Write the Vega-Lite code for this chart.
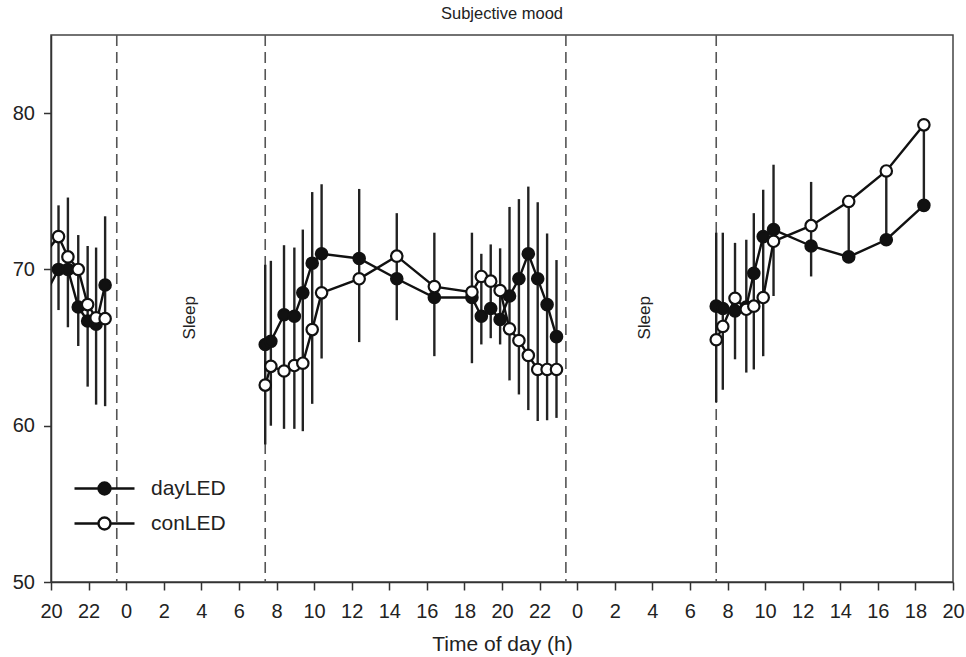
{
  "$schema": "https://vega.github.io/schema/vega-lite/v6.json",
  "autosize": {"type": "none"},
  "width": 902,
  "height": 547,
  "padding": {"left": 51, "top": 35, "right": 13, "bottom": 75},
  "config": {
    "font": "Liberation Sans",
    "view": {"stroke": "#444", "strokeWidth": 1.5},
    "axis": {"grid": false, "domainColor": "#333", "tickColor": "#333", "domainWidth": 1.5, "tickWidth": 1.5, "labelColor": "#222", "titleColor": "#222", "labelFont": "Liberation Sans", "titleFont": "Liberation Sans"}
  },
  "title": {"text": "Subjective mood", "fontSize": 16.5, "fontWeight": "normal", "color": "#222", "offset": 12, "font": "Liberation Sans"},
  "datasets": {
    "mood": [
      {"series": "dayLED", "seg": 1, "hour": 19.4, "mood": 67.75},
      {"series": "dayLED", "seg": 1, "hour": 20.4, "mood": 70.0},
      {"series": "dayLED", "seg": 1, "hour": 20.9, "mood": 70.0},
      {"series": "dayLED", "seg": 1, "hour": 21.45, "mood": 67.6},
      {"series": "dayLED", "seg": 1, "hour": 21.95, "mood": 66.7},
      {"series": "dayLED", "seg": 1, "hour": 22.4, "mood": 66.5},
      {"series": "dayLED", "seg": 1, "hour": 22.88, "mood": 69.0},
      {"series": "dayLED", "seg": 2, "hour": 31.4, "mood": 65.2},
      {"series": "dayLED", "seg": 2, "hour": 31.7, "mood": 65.4},
      {"series": "dayLED", "seg": 2, "hour": 32.4, "mood": 67.1},
      {"series": "dayLED", "seg": 2, "hour": 32.95, "mood": 67.0},
      {"series": "dayLED", "seg": 2, "hour": 33.4, "mood": 68.5},
      {"series": "dayLED", "seg": 2, "hour": 33.9, "mood": 70.4},
      {"series": "dayLED", "seg": 2, "hour": 34.4, "mood": 71.0},
      {"series": "dayLED", "seg": 2, "hour": 36.4, "mood": 70.7},
      {"series": "dayLED", "seg": 2, "hour": 38.4, "mood": 69.4},
      {"series": "dayLED", "seg": 2, "hour": 40.4, "mood": 68.2},
      {"series": "dayLED", "seg": 2, "hour": 42.4, "mood": 68.2},
      {"series": "dayLED", "seg": 2, "hour": 42.9, "mood": 67.0},
      {"series": "dayLED", "seg": 2, "hour": 43.4, "mood": 67.5},
      {"series": "dayLED", "seg": 2, "hour": 43.9, "mood": 66.8},
      {"series": "dayLED", "seg": 2, "hour": 44.4, "mood": 68.3},
      {"series": "dayLED", "seg": 2, "hour": 44.9, "mood": 69.4},
      {"series": "dayLED", "seg": 2, "hour": 45.4, "mood": 71.0},
      {"series": "dayLED", "seg": 2, "hour": 45.9, "mood": 69.4},
      {"series": "dayLED", "seg": 2, "hour": 46.4, "mood": 67.75},
      {"series": "dayLED", "seg": 2, "hour": 46.9, "mood": 65.7},
      {"series": "dayLED", "seg": 3, "hour": 55.4, "mood": 67.65},
      {"series": "dayLED", "seg": 3, "hour": 55.75, "mood": 67.5},
      {"series": "dayLED", "seg": 3, "hour": 56.4, "mood": 67.35},
      {"series": "dayLED", "seg": 3, "hour": 57.0, "mood": 67.6},
      {"series": "dayLED", "seg": 3, "hour": 57.4, "mood": 69.75},
      {"series": "dayLED", "seg": 3, "hour": 57.9, "mood": 72.1},
      {"series": "dayLED", "seg": 3, "hour": 58.45, "mood": 72.55},
      {"series": "dayLED", "seg": 3, "hour": 60.45, "mood": 71.5},
      {"series": "dayLED", "seg": 3, "hour": 62.45, "mood": 70.8},
      {"series": "dayLED", "seg": 3, "hour": 64.45, "mood": 71.9},
      {"series": "dayLED", "seg": 3, "hour": 66.45, "mood": 74.1},
      {"series": "conLED", "seg": 1, "hour": 19.4, "mood": 70.6},
      {"series": "conLED", "seg": 1, "hour": 20.4, "mood": 72.1},
      {"series": "conLED", "seg": 1, "hour": 20.9, "mood": 70.8},
      {"series": "conLED", "seg": 1, "hour": 21.45, "mood": 70.0},
      {"series": "conLED", "seg": 1, "hour": 21.95, "mood": 67.75},
      {"series": "conLED", "seg": 1, "hour": 22.4, "mood": 66.9},
      {"series": "conLED", "seg": 1, "hour": 22.88, "mood": 66.85},
      {"series": "conLED", "seg": 2, "hour": 31.4, "mood": 62.6},
      {"series": "conLED", "seg": 2, "hour": 31.7, "mood": 63.8},
      {"series": "conLED", "seg": 2, "hour": 32.4, "mood": 63.5},
      {"series": "conLED", "seg": 2, "hour": 32.95, "mood": 63.85},
      {"series": "conLED", "seg": 2, "hour": 33.4, "mood": 64.0},
      {"series": "conLED", "seg": 2, "hour": 33.9, "mood": 66.15},
      {"series": "conLED", "seg": 2, "hour": 34.4, "mood": 68.5},
      {"series": "conLED", "seg": 2, "hour": 36.4, "mood": 69.4},
      {"series": "conLED", "seg": 2, "hour": 38.4, "mood": 70.85},
      {"series": "conLED", "seg": 2, "hour": 40.4, "mood": 68.9},
      {"series": "conLED", "seg": 2, "hour": 42.4, "mood": 68.55},
      {"series": "conLED", "seg": 2, "hour": 42.9, "mood": 69.55},
      {"series": "conLED", "seg": 2, "hour": 43.4, "mood": 69.25},
      {"series": "conLED", "seg": 2, "hour": 43.9, "mood": 68.65},
      {"series": "conLED", "seg": 2, "hour": 44.4, "mood": 66.2},
      {"series": "conLED", "seg": 2, "hour": 44.9, "mood": 65.45},
      {"series": "conLED", "seg": 2, "hour": 45.4, "mood": 64.5},
      {"series": "conLED", "seg": 2, "hour": 45.9, "mood": 63.6},
      {"series": "conLED", "seg": 2, "hour": 46.4, "mood": 63.6},
      {"series": "conLED", "seg": 2, "hour": 46.9, "mood": 63.6},
      {"series": "conLED", "seg": 3, "hour": 55.4, "mood": 65.5},
      {"series": "conLED", "seg": 3, "hour": 55.75, "mood": 66.35},
      {"series": "conLED", "seg": 3, "hour": 56.4, "mood": 68.15},
      {"series": "conLED", "seg": 3, "hour": 57.0, "mood": 67.45},
      {"series": "conLED", "seg": 3, "hour": 57.4, "mood": 67.65},
      {"series": "conLED", "seg": 3, "hour": 57.9, "mood": 68.2},
      {"series": "conLED", "seg": 3, "hour": 58.45, "mood": 71.8},
      {"series": "conLED", "seg": 3, "hour": 60.45, "mood": 72.8},
      {"series": "conLED", "seg": 3, "hour": 62.45, "mood": 74.35},
      {"series": "conLED", "seg": 3, "hour": 64.45, "mood": 76.3},
      {"series": "conLED", "seg": 3, "hour": 66.45, "mood": 79.25}
    ],
    "err": [
      {"hour": 20.4, "lo": 67.4, "hi": 74.1},
      {"hour": 20.9, "lo": 66.3, "hi": 74.6},
      {"hour": 21.45, "lo": 65.1, "hi": 72.2},
      {"hour": 21.95, "lo": 62.5, "hi": 71.5},
      {"hour": 22.4, "lo": 61.35, "hi": 71.4},
      {"hour": 22.88, "lo": 61.25, "hi": 73.4},
      {"hour": 31.4, "lo": 58.8, "hi": 70.3},
      {"hour": 31.7, "lo": 60.0, "hi": 70.55},
      {"hour": 32.4, "lo": 59.8, "hi": 71.55},
      {"hour": 32.95, "lo": 59.8, "hi": 71.4},
      {"hour": 33.4, "lo": 59.65, "hi": 72.55},
      {"hour": 33.9, "lo": 61.4, "hi": 74.95},
      {"hour": 34.4, "lo": 64.3, "hi": 75.45},
      {"hour": 36.4, "lo": 65.35, "hi": 75.15},
      {"hour": 38.4, "lo": 66.75, "hi": 73.6},
      {"hour": 40.4, "lo": 64.45, "hi": 72.35},
      {"hour": 42.4, "lo": 64.0, "hi": 72.35},
      {"hour": 42.9, "lo": 65.2, "hi": 71.0},
      {"hour": 43.4, "lo": 65.6, "hi": 71.6},
      {"hour": 43.9, "lo": 65.2, "hi": 71.35},
      {"hour": 44.4, "lo": 62.9, "hi": 74.0},
      {"hour": 44.9, "lo": 62.0, "hi": 74.5},
      {"hour": 45.4, "lo": 61.0, "hi": 75.3},
      {"hour": 45.9, "lo": 60.3, "hi": 74.3},
      {"hour": 46.4, "lo": 60.35, "hi": 72.3},
      {"hour": 46.9, "lo": 60.5, "hi": 70.6},
      {"hour": 55.4, "lo": 61.5, "hi": 72.35},
      {"hour": 55.75, "lo": 62.3, "hi": 72.35},
      {"hour": 56.4, "lo": 64.25, "hi": 71.7},
      {"hour": 57.0, "lo": 63.4, "hi": 71.9},
      {"hour": 57.4, "lo": 63.6, "hi": 73.6},
      {"hour": 57.9, "lo": 64.45, "hi": 75.1},
      {"hour": 58.45, "lo": 68.3, "hi": 76.7},
      {"hour": 60.45, "lo": 69.55, "hi": 75.6},
      {"hour": 62.45, "lo": 70.8, "hi": 74.35},
      {"hour": 64.45, "lo": 71.9, "hi": 76.3},
      {"hour": 66.45, "lo": 74.1, "hi": 79.25}
    ],
    "sleepLines": [
      {"hour": 23.5}, {"hour": 31.4}, {"hour": 47.4}, {"hour": 55.4}
    ],
    "sleepText": [
      {"hour": 27.4, "mood": 66.9, "label": "Sleep"},
      {"hour": 51.6, "mood": 66.9, "label": "Sleep"}
    ]
  },
  "encoding": {
    "x": {
      "field": "hour", "type": "quantitative",
      "scale": {"domain": [20, 68], "nice": false, "zero": false},
      "axis": {
        "values": [20, 22, 24, 26, 28, 30, 32, 34, 36, 38, 40, 42, 44, 46, 48, 50, 52, 54, 56, 58, 60, 62, 64, 66, 68],
        "labelExpr": "datum.value % 24",
        "title": "Time of day (h)", "titleFontSize": 21, "titleFontWeight": "normal", "titlePadding": 12,
        "labelFontSize": 20, "labelPadding": 11, "tickSize": 8, "labelFlush": false, "labelOverlap": false
      }
    }
  },
  "layer": [
    {
      "data": {"name": "sleepLines"},
      "mark": {"type": "rule", "color": "#555", "strokeWidth": 1.6, "strokeDash": [11, 6]},
      "encoding": {}
    },
    {
      "data": {"name": "err"},
      "mark": {"type": "rule", "color": "#222", "strokeWidth": 2.4},
      "encoding": {
        "y": {"field": "lo", "type": "quantitative", "scale": {"domain": [50, 85], "nice": false, "zero": false},
              "axis": {"values": [50, 60, 70, 80], "title": null, "labelFontSize": 20, "labelPadding": 9, "tickSize": 7.5}},
        "y2": {"field": "hi"}
      }
    },
    {
      "data": {"name": "mood"},
      "mark": {"type": "line", "color": "#111", "strokeWidth": 2.4, "clip": true},
      "encoding": {
        "y": {"field": "mood", "type": "quantitative"},
        "detail": [{"field": "series"}, {"field": "seg"}]
      }
    },
    {
      "data": {"name": "mood"},
      "mark": {"type": "point", "shape": "circle", "filled": true, "stroke": "#111", "strokeWidth": 2.2, "size": 130, "opacity": 1, "clip": true},
      "encoding": {
        "y": {"field": "mood", "type": "quantitative"},
        "fill": {
          "field": "series", "type": "nominal",
          "scale": {"domain": ["dayLED", "conLED"], "range": ["#111111", "#ffffff"]},
          "legend": {
            "title": null, "orient": "none", "legendX": 22, "legendY": 436, "padding": 0,
            "symbolType": "M-1,0L-0.2,0M0.2,0L1,0M-0.2,0A0.2,0.2,0,1,1,0.2,0A0.2,0.2,0,1,1,-0.2,0Z",
            "symbolSize": 3600, "symbolStrokeColor": "#111", "symbolStrokeWidth": 2.4, "symbolOpacity": 1,
            "clipHeight": 35, "rowPadding": 0,
            "labelFontSize": 21, "labelOffset": 15, "labelColor": "#222", "labelFont": "Liberation Sans"
          }
        }
      }
    },
    {
      "data": {"name": "sleepText"},
      "mark": {"type": "text", "angle": 270, "fontSize": 17, "color": "#222", "font": "Liberation Sans", "align": "center", "baseline": "middle"},
      "encoding": {
        "y": {"field": "mood", "type": "quantitative"},
        "text": {"field": "label"}
      }
    }
  ]
}
